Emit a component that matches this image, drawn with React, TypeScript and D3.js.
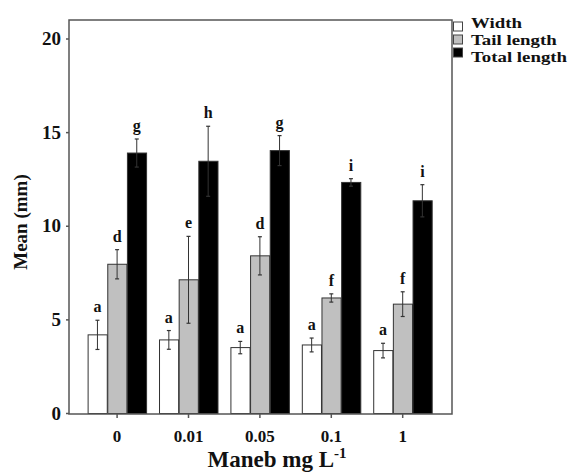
import * as d3 from 'd3';
import React, { useRef, useEffect } from 'react';

// concentrations of maneb (mg/L)
const doses = ['0', '0.01', '0.05', '0.1', '1'];
const seriesNames = ['Width', 'Tail length', 'Total length'];
const seriesFill = ['#ffffff', '#c0c0c0', '#000000'];

const widthMean = [4.2, 3.93, 3.52, 3.66, 3.36];
const widthErr = [0.78, 0.5, 0.33, 0.37, 0.39];
const tailMean = [7.97, 7.14, 8.42, 6.17, 5.84];
const tailErr = [0.78, 2.32, 1.02, 0.22, 0.66];
const totalMean = [13.91, 13.47, 14.04, 12.34, 11.36];
const totalErr = [0.75, 1.87, 0.8, 0.2, 0.86];

const widthLetters = ['a', 'a', 'a', 'a', 'a'];
const tailLetters = ['d', 'e', 'd', 'f', 'f'];
const totalLetters = ['g', 'h', 'g', 'i', 'i'];

const yTicks = [0, 5, 10, 15, 20];

function App() {
  const ref = useRef<SVGSVGElement>(null);
  const W = 572, H = 472;

  useEffect(() => {
    const svg = d3.select(ref.current);
    svg.selectAll('*').remove();

    const font = '"Liberation Serif", "Times New Roman", serif';
    const left = 69, right = 452, top = 20, bottom = 414;

    const y = d3.scaleLinear().domain([0, 20]).range([413.5, 39]);
    const x = d3.scaleBand().domain(doses).range([81.4, 438.4])
      .paddingInner(0.174).paddingOuter(0.087);
    const xs = d3.scaleBand().domain(seriesNames).range([0, x.bandwidth()]);

    const means = [widthMean, tailMean, totalMean];
    const errs = [widthErr, tailErr, totalErr];
    const letters = [widthLetters, tailLetters, totalLetters];

    svg.append('rect').attr('width', W).attr('height', H).attr('fill', '#fff');

    // bars + error bars + letters
    seriesNames.forEach((s, si) => {
      const g = svg.append('g');
      doses.forEach((d, i) => {
        const bx = x(d)! + xs(s)!;
        const v = means[si][i];
        g.append('rect')
          .attr('x', bx + 0.5)
          .attr('y', y(v))
          .attr('width', xs.bandwidth() - 0.5)
          .attr('height', y(0) - y(v))
          .attr('fill', seriesFill[si])
          .attr('stroke', '#333')
          .attr('stroke-width', 1);

        const cx = bx + xs.bandwidth() / 2;
        const hi = y(v + errs[si][i]);
        const lo = y(v - errs[si][i]);
        g.append('line').attr('x1', cx).attr('x2', cx).attr('y1', hi).attr('y2', lo)
          .attr('stroke', '#333').attr('stroke-width', 1);
        [hi, lo].forEach(yy => {
          g.append('line').attr('x1', cx - 2).attr('x2', cx + 2).attr('y1', yy).attr('y2', yy)
            .attr('stroke', '#333').attr('stroke-width', 1.2);
        });

        g.append('text')
          .attr('x', cx)
          .attr('y', hi - 8)
          .attr('text-anchor', 'middle')
          .attr('font-family', font)
          .attr('font-weight', 'bold')
          .attr('font-size', 16)
          .attr('fill', '#111')
          .text(letters[si][i]);
      });
    });

    // frame
    svg.append('rect')
      .attr('x', left).attr('y', top)
      .attr('width', right - left).attr('height', bottom - top)
      .attr('fill', 'none').attr('stroke', '#555').attr('stroke-width', 1.5);

    // y axis ticks
    yTicks.forEach(t => {
      svg.append('line').attr('x1', left - 3).attr('x2', left).attr('y1', y(t)).attr('y2', y(t))
        .attr('stroke', '#555').attr('stroke-width', 1.5);
      svg.append('text')
        .attr('x', left - 8).attr('y', y(t) + 6)
        .attr('text-anchor', 'end')
        .attr('font-family', font).attr('font-weight', 'bold').attr('font-size', 19)
        .attr('fill', '#111')
        .text(t);
    });

    // x axis ticks
    doses.forEach(d => {
      const cx = x(d)! + x.bandwidth() / 2;
      svg.append('line').attr('x1', cx).attr('x2', cx).attr('y1', bottom).attr('y2', bottom + 4)
        .attr('stroke', '#555').attr('stroke-width', 1.5);
      svg.append('text')
        .attr('x', cx).attr('y', bottom + 28)
        .attr('text-anchor', 'middle')
        .attr('font-family', font).attr('font-weight', 'bold').attr('font-size', 17)
        .attr('fill', '#111')
        .text(d);
    });

    // axis titles
    const xt = svg.append('text')
      .attr('x', 277).attr('y', 467)
      .attr('text-anchor', 'middle')
      .attr('font-family', font).attr('font-weight', 'bold').attr('font-size', 23)
      .attr('fill', '#111');
    xt.append('tspan').text('Maneb mg L');
    xt.append('tspan').attr('dy', -9).attr('font-size', 15).text('-1');

    svg.append('text')
      .attr('transform', 'translate(27,222) rotate(-90)')
      .attr('text-anchor', 'middle')
      .attr('font-family', font).attr('font-weight', 'bold').attr('font-size', 19)
      .attr('fill', '#111')
      .text('Mean (mm)');

    // legend (text is squeezed vertically, like the original)
    const legY = [22, 35, 48];
    const legText = [28, 45, 62];
    seriesNames.forEach((s, si) => {
      svg.append('rect')
        .attr('x', 453.5).attr('y', legY[si])
        .attr('width', 9).attr('height', 9)
        .attr('fill', seriesFill[si]).attr('stroke', '#444').attr('stroke-width', 1);
      svg.append('text')
        .attr('transform', `translate(471,${legText[si]}) scale(1.3,1)`)
        .attr('font-family', font).attr('font-weight', 'bold').attr('font-size', 14.5)
        .attr('fill', '#111')
        .text(s);
    });
  }, []);

  return (
    <div className="chart">
      <svg ref={ref} width={W} height={H} style={{ position: 'absolute', left: 0, top: 0 }}></svg>
    </div>
  );
}

export default App;
